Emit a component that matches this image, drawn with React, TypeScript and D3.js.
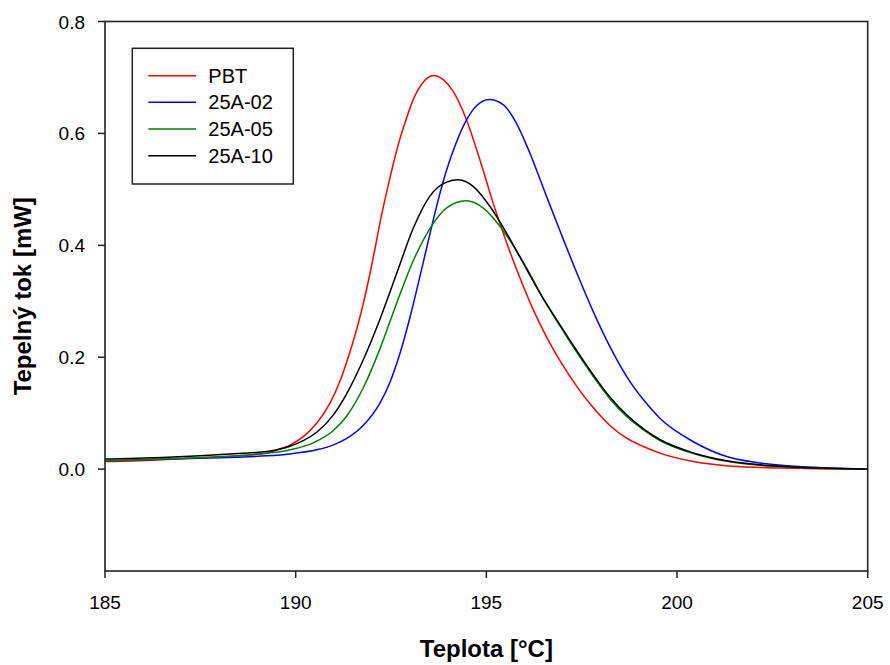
import React from "react";
import * as d3 from "d3";

// ---- data ----
const pbtT = [185, 186.5, 187.5, 188.5, 189.24, 189.59, 189.85, 190.2, 190.55, 190.9, 191.16, 191.34, 191.6, 191.77, 192.04, 192.21, 192.47, 192.65, 192.91, 193.08, 193.35, 193.61, 193.87, 194.13, 194.48, 194.83, 195.18, 195.53, 195.88, 196.23, 196.58, 196.93, 197.37, 197.8, 198.24, 198.68, 199.12, 199.55, 200.43, 201.3, 202.18, 203.05, 204, 205];
const pbtV = [0.0136, 0.017, 0.0205, 0.024, 0.029, 0.036, 0.043, 0.058, 0.082, 0.118, 0.157, 0.192, 0.25, 0.295, 0.38, 0.44, 0.52, 0.57, 0.628, 0.66, 0.692, 0.7035, 0.696, 0.675, 0.624, 0.553, 0.475, 0.405, 0.342, 0.285, 0.236, 0.194, 0.148, 0.11, 0.078, 0.0554, 0.0404, 0.0286, 0.0136, 0.006, 0.003, 0.0015, 0.0005, 0];

const a02T = [185, 186.5, 187.5, 188.5, 189.24, 189.85, 190.55, 190.99, 191.34, 191.77, 192.21, 192.47, 192.74, 193.0, 193.26, 193.44, 193.61, 193.78, 193.96, 194.22, 194.48, 194.75, 195.08, 195.45, 195.79, 196.14, 196.58, 196.93, 197.37, 197.8, 198.24, 198.68, 199.12, 199.55, 200.43, 201.3, 202.18, 203.05, 204, 205];
const a02V = [0.015, 0.0175, 0.0195, 0.0215, 0.0238, 0.0273, 0.0345, 0.0434, 0.055, 0.078, 0.118, 0.155, 0.208, 0.272, 0.345, 0.397, 0.446, 0.492, 0.535, 0.585, 0.624, 0.65, 0.6606, 0.651, 0.618, 0.565, 0.487, 0.426, 0.351, 0.282, 0.219, 0.1655, 0.124, 0.091, 0.049, 0.0225, 0.011, 0.005, 0.002, 0];

const a05T = [185, 186.5, 187.5, 188.5, 189.24, 189.59, 189.85, 190.46, 190.99, 191.34, 191.77, 192.21, 192.65, 193.08, 193.52, 193.96, 194.47, 194.92, 195.36, 195.7, 196.1, 196.5, 196.93, 197.37, 197.8, 198.24, 198.68, 199.12, 199.55, 200.43, 201.3, 202.18, 203.05, 204, 205];
const a05V = [0.015, 0.018, 0.0205, 0.024, 0.0286, 0.031, 0.0345, 0.047, 0.069, 0.095, 0.145, 0.215, 0.297, 0.372, 0.43, 0.467, 0.4795, 0.4665, 0.4336, 0.4, 0.354, 0.304, 0.256, 0.209, 0.166, 0.126, 0.094, 0.07, 0.051, 0.028, 0.014, 0.007, 0.0035, 0.0012, 0];

const a10T = [185, 186.5, 187.5, 188.5, 189.24, 189.59, 189.85, 190.2, 190.55, 190.99, 191.34, 191.77, 192.21, 192.65, 193.08, 193.52, 193.96, 194.27, 194.66, 195.1, 195.53, 195.97, 196.41, 196.93, 197.37, 197.8, 198.24, 198.68, 199.12, 199.55, 200.43, 201.3, 202.18, 203.05, 204, 205];
const a10V = [0.018, 0.021, 0.024, 0.028, 0.0315, 0.036, 0.041, 0.051, 0.066, 0.097, 0.135, 0.195, 0.268, 0.35, 0.43, 0.488, 0.513, 0.517, 0.505, 0.469, 0.422, 0.368, 0.314, 0.258, 0.212, 0.169, 0.129, 0.097, 0.072, 0.053, 0.029, 0.015, 0.0077, 0.004, 0.0015, 0];

const seriesNames = ["PBT", "25A-02", "25A-05", "25A-10"];
const seriesColors = ["#ff0000", "#0000ff", "#008000", "#000000"];
const xTicks = [185, 190, 195, 200, 205];
const yTicks = [0.0, 0.2, 0.4, 0.6, 0.8];

const W = 890, H = 665;
const L = 105, R = 867.7, T = 21.5, B = 571;
const FONT = "'Liberation Sans', Arial, sans-serif";

export default function App() {
  const x = d3.scaleLinear().domain([185, 205]).range([L, R]);
  const y = d3.scaleLinear().domain([-0.182, 0.8]).range([B, T]);
  const line = d3
    .line<[number, number]>()
    .x((d) => x(d[0]))
    .y((d) => y(d[1]))
    .curve(d3.curveMonotoneX);

  const series = [
    [pbtT, pbtV],
    [a02T, a02V],
    [a05T, a05V],
    [a10T, a10V],
  ].map(([ts, vs]) => ts.map((t, i) => [t, vs[i]] as [number, number]));

  const legX = 132.3, legY = 48.3, legW = 161, legH = 135.7;
  const rowY = (i: number) => 75.7 + i * 26.67;

  return (
    <svg width={W} height={H} style={{ position: "absolute", left: 0, top: 0, background: "#fff" }} fontFamily={FONT}>
      <rect x={0} y={0} width={W} height={H} fill="#fff" />
      <defs>
        <clipPath id="plot">
          <rect x={L} y={T} width={R - L} height={B - T} />
        </clipPath>
      </defs>
      <g clipPath="url(#plot)">
        {series.map((s, i) => (
          <path key={i} d={line(s) || ""} fill="none" stroke={seriesColors[i]} strokeWidth={1.5} />
        ))}
      </g>
      {/* frame */}
      <rect x={L} y={T} width={R - L} height={B - T} fill="none" stroke="#222" strokeWidth={1.6} />
      {/* x ticks */}
      {xTicks.map((t) => (
        <g key={t}>
          <line x1={x(t)} x2={x(t)} y1={B} y2={B + 7} stroke="#222" strokeWidth={1.5} />
          <text x={x(t)} y={609} textAnchor="middle" fontSize={19}>
            {t}
          </text>
        </g>
      ))}
      {/* y ticks */}
      {yTicks.map((t) => (
        <g key={t}>
          <line x1={L - 7} x2={L} y1={y(t)} y2={y(t)} stroke="#222" strokeWidth={1.5} />
          <text x={85} y={y(t) + 7} textAnchor="end" fontSize={19}>
            {t.toFixed(1)}
          </text>
        </g>
      ))}
      {/* axis titles */}
      <text x={(L + R) / 2} y={657} textAnchor="middle" fontSize={24} fontWeight="bold">
        Teplota [°C]
      </text>
      <text
        transform={`translate(31, ${(T + B) / 2}) rotate(-90)`}
        textAnchor="middle"
        fontSize={24}
        fontWeight="bold"
      >
        Tepelný tok [mW]
      </text>
      {/* legend */}
      <rect x={legX} y={legY} width={legW} height={legH} fill="#fff" stroke="#222" strokeWidth={1.5} />
      {seriesNames.map((n, i) => (
        <g key={n}>
          <line x1={148.3} x2={196} y1={rowY(i)} y2={rowY(i)} stroke={seriesColors[i]} strokeWidth={1.5} />
          <text x={208.3} y={rowY(i) + 7} fontSize={20}>
            {n}
          </text>
        </g>
      ))}
    </svg>
  );
}
